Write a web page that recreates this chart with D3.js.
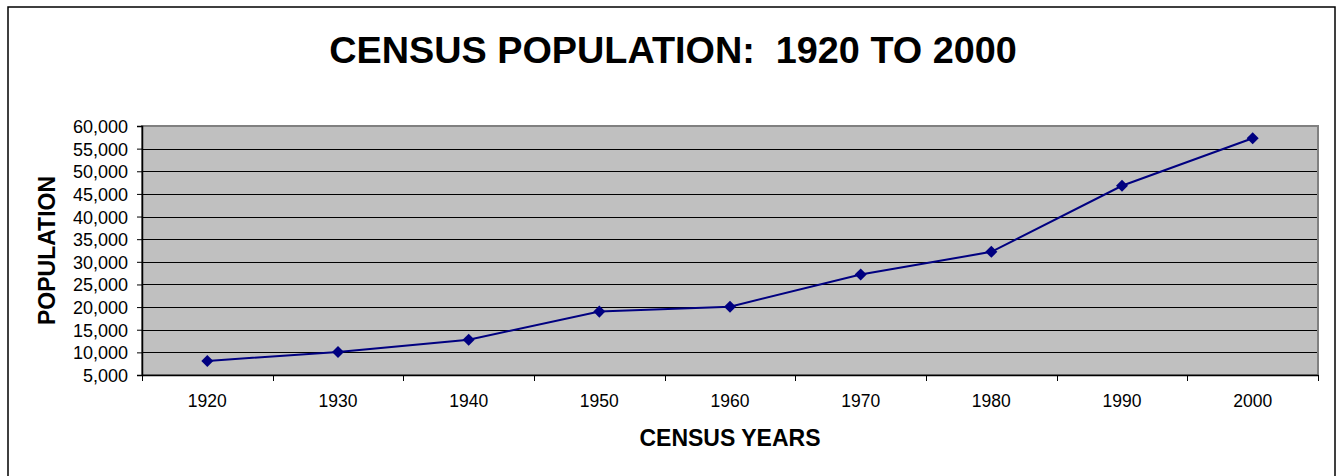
<!DOCTYPE html>
<html>
<head>
<meta charset="utf-8">
<script src="https://cdn.jsdelivr.net/npm/d3@7"></script>
<style>
  body { margin: 0; background: #fff; }
  text { font-family: "Liberation Sans", Arial, sans-serif; fill: #000; }
</style>
</head>
<body>
<div id="chart"></div>
<script>
// census data
var years = ["1920", "1930", "1940", "1950", "1960", "1970", "1980", "1990", "2000"];
var population = [8100, 10100, 12800, 19000, 20100, 27200, 32200, 46800, 57300];
var yTicks = [5000, 10000, 15000, 20000, 25000, 30000, 35000, 40000, 45000, 50000, 55000, 60000];

var W = 1340, H = 476,
  margin = { top: 126, right: 22, bottom: 101, left: 142 },
  width = W - margin.left - margin.right,
  height = H - margin.top - margin.bottom;

var svg = d3.select("#chart").append("svg")
  .attr("width", W)
  .attr("height", H);

// outer chart frame
svg.append("rect")
  .attr("x", 8).attr("y", 7)
  .attr("width", 1327).attr("height", 480)
  .attr("fill", "none")
  .attr("stroke", "#000")
  .attr("stroke-width", 1.5);

svg.append("text")
  .attr("x", 673).attr("y", 63)
  .attr("text-anchor", "middle")
  .style("font-size", "37.8px")
  .style("font-weight", "bold")
  .style("white-space", "pre")
  .text("CENSUS POPULATION:  1920 TO 2000");

var g = svg.append("g")
  .attr("transform", "translate(" + margin.left + "," + margin.top + ")");

var x = d3.scaleBand().domain(years).range([0, width]);
var y = d3.scaleLinear().domain([5000, 60000]).range([height, 0]);

g.append("rect")
  .attr("width", width).attr("height", height)
  .attr("fill", "#c0c0c0");

// gridlines
g.selectAll(".grid")
  .data(yTicks.slice(1))
  .enter().append("line")
  .attr("class", "grid")
  .attr("x1", 0).attr("x2", width)
  .attr("y1", function (d) { return Math.round(y(d)) + 0.5; })
  .attr("y2", function (d) { return Math.round(y(d)) + 0.5; })
  .attr("stroke", "#000")
  .attr("stroke-width", 1);

// plot border (right/top in grey)
g.append("rect")
  .attr("width", width).attr("height", height)
  .attr("fill", "none")
  .attr("stroke", "#808080")
  .attr("stroke-width", 2);

// y axis
var yAxis = g.append("g")
  .call(d3.axisLeft(y).tickValues(yTicks).tickSize(5).tickPadding(9)
    .tickFormat(d3.format(",")));
yAxis.select(".domain").attr("stroke", "#000").attr("stroke-width", 1.5);
yAxis.selectAll("text").style("font-size", "18px").attr("dy", "0.36em");

// x axis, ticks on the category boundaries
var xAxis = g.append("g")
  .attr("transform", "translate(0," + height + ")")
  .call(d3.axisBottom(x).tickSize(0).tickPadding(20));
xAxis.select(".domain").attr("stroke", "#000").attr("stroke-width", 1.5);
xAxis.selectAll("text").style("font-size", "17.5px");
xAxis.selectAll(".bound")
  .data(d3.range(years.length + 1))
  .enter().append("line")
  .attr("class", "bound")
  .attr("x1", function (i) { return Math.round(i * x.step()) + 0.5; })
  .attr("x2", function (i) { return Math.round(i * x.step()) + 0.5; })
  .attr("y1", 0).attr("y2", 6)
  .attr("stroke", "#000");

// axis titles
svg.append("text")
  .attr("x", margin.left + width / 2).attr("y", 446)
  .attr("text-anchor", "middle")
  .style("font-size", "23px").style("font-weight", "bold")
  .text("CENSUS YEARS");

svg.append("text")
  .attr("transform", "translate(55," + (margin.top + height / 2) + ") rotate(-90)")
  .attr("text-anchor", "middle")
  .style("font-size", "23px").style("font-weight", "bold")
  .text("POPULATION");

// series
var cx = function (d, i) { return x(years[i]) + x.bandwidth() / 2; };
var line = d3.line()
  .x(function (d, i) { return cx(d, i); })
  .y(function (d) { return y(d); });

g.append("path")
  .datum(population)
  .attr("d", line)
  .attr("fill", "none")
  .attr("stroke", "#000080")
  .attr("stroke-width", 2);

var diamond = d3.symbol().type(d3.symbolDiamond2).size(92);
g.selectAll(".pt")
  .data(population)
  .enter().append("path")
  .attr("class", "pt")
  .attr("d", diamond)
  .attr("transform", function (d, i) { return "translate(" + cx(d, i) + "," + y(d) + ")"; })
  .attr("fill", "#000080");
</script>
</body>
</html>
